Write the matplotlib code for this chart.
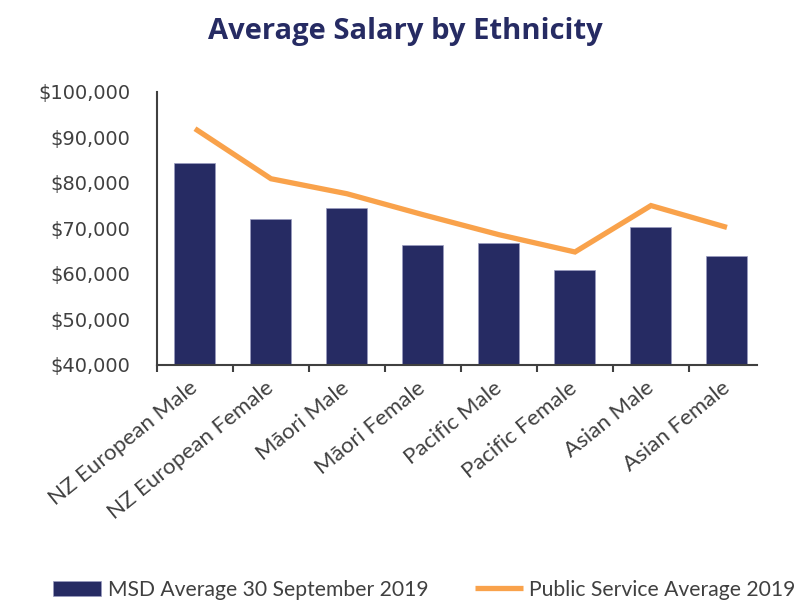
import matplotlib
matplotlib.use("Agg")
import matplotlib.pyplot as plt
import numpy as np
from matplotlib.ticker import FuncFormatter

categories = ["NZ European Male", "NZ European Female", "Māori Male", "Māori Female",
              "Pacific Male", "Pacific Female", "Asian Male", "Asian Female"]
msd_avg = [84400, 72100, 74500, 66400, 66800, 60900, 70300, 64000]
ps_avg = [91900, 80900, 77600, 73000, 68600, 64800, 75000, 70200]
y_ticks = [40000, 50000, 60000, 70000, 80000, 90000, 100000]

NAVY = "#262b63"
ORANGE = "#f9a24b"
GREY = "#404040"

fig = plt.figure(figsize=(8.1, 6.03), dpi=100)
ax = fig.add_axes([0.1938, 0.395, 0.7506, 0.4527])

x = np.arange(len(categories))
bars = ax.bar(x, msd_avg, width=0.54, color=NAVY, edgecolor="#9a9cc0", linewidth=0.5,
              label="MSD Average 30 September 2019", zorder=2)
line, = ax.plot(x, ps_avg, color=ORANGE, linewidth=3.8, solid_capstyle="butt",
                solid_joinstyle="miter", label="Public Service Average 2019", zorder=3)

ax.set_xlim(-0.5, 7.5)
ax.set_ylim(40000, 100000)
ax.set_yticks(y_ticks)
ax.yaxis.set_major_formatter(FuncFormatter(lambda v, p: "${:,.0f}".format(v)))
ax.tick_params(axis="y", length=0, pad=19, labelsize=14, labelcolor=GREY)
for t in ax.get_yticklabels():
    t.set_family("DejaVu Sans")

# labels at the bar centres, tick marks at the category boundaries
ax.set_xticks(x)
ax.set_xticklabels(categories, rotation=39, ha="right", va="center",
                   rotation_mode="anchor", family="Lato", fontsize=16, color=GREY)
ax.tick_params(axis="x", which="major", length=0, pad=15)
ax.set_xticks(np.arange(-0.5, 7.0, 1.0), minor=True)
ax.tick_params(axis="x", which="minor", length=5, width=1.5, color=GREY, direction="out")

for s in ["top", "right"]:
    ax.spines[s].set_visible(False)
for s in ["left", "bottom"]:
    ax.spines[s].set_color(GREY)
    ax.spines[s].set_linewidth(1.5)
ax.spines["bottom"].set_bounds(-0.5, 7.4)

fig.text(0.5, 0.948, "Average Salary by Ethnicity", ha="center", va="center",
         fontsize=21, fontweight="bold", color=NAVY, family="Open Sans")

fig.legend(handles=[bars, line], loc="center left", bbox_to_anchor=(0.065, 0.022), ncol=2,
           frameon=False, borderaxespad=0, borderpad=0, handlelength=2.3, handletextpad=0.3,
           columnspacing=2.2, prop={"family": "Lato", "size": 15.2}, labelcolor=GREY)

fig.savefig("out.png", dpi=100)
